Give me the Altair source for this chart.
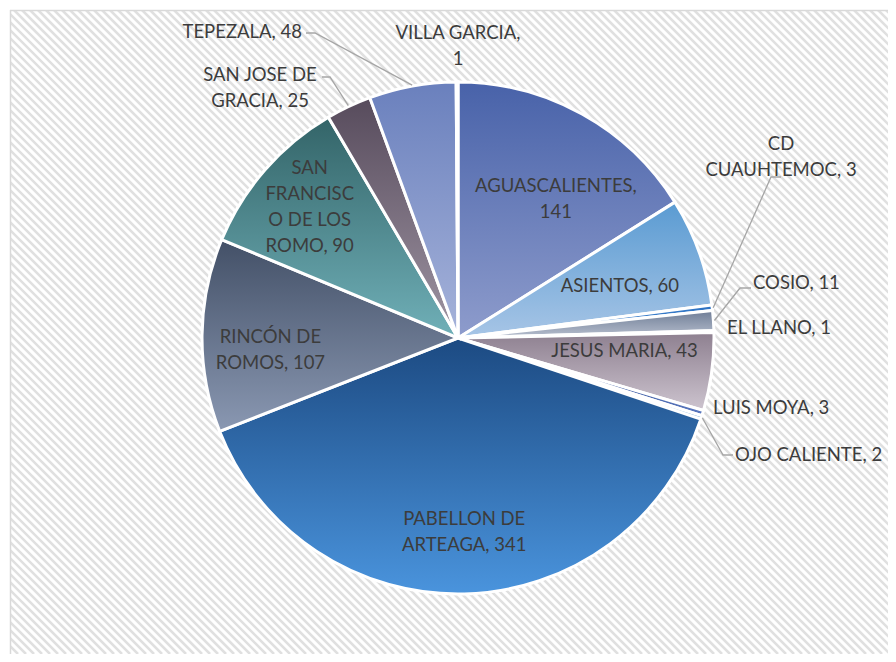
import math
import altair as alt
import pandas as pd

# ---------------- data ----------------
categories = ["AGUASCALIENTES", "ASIENTOS", "CD CUAUHTEMOC", "COSIO", "EL LLANO",
              "JESUS MARIA", "LUIS MOYA", "OJO CALIENTE", "PABELLON DE ARTEAGA",
              "RINCÓN DE ROMOS", "SAN FRANCISCO DE LOS ROMO", "SAN JOSE DE GRACIA",
              "TEPEZALA", "VILLA GARCIA"]
values = [141, 60, 3, 11, 1, 43, 3, 2, 341, 107, 90, 25, 48, 1]
label_texts = ["AGUASCALIENTES,\n141", "ASIENTOS, 60", "CD\nCUAUHTEMOC, 3", "COSIO, 11",
               "EL LLANO, 1", "JESUS MARIA, 43", "LUIS MOYA, 3", "OJO CALIENTE, 2",
               "PABELLON DE\nARTEAGA, 341", "RINCÓN DE\nROMOS, 107",
               "SAN\nFRANCISC\nO DE LOS\nROMO, 90", "SAN JOSE DE\nGRACIA, 25",
               "TEPEZALA, 48", "VILLA GARCIA,\n1"]

# ---------------- styles ----------------
top_colors = ["#4862a9", "#5a9bd2", "#2a6fc0", "#6f7d96", "#4f959f", "#8e8090", "#2b4680",
              "#3a6fa0", "#1c4a82", "#435067", "#336468", "#574b5c", "#6a80bd", "#8ab8e0"]
bottom_colors = ["#8e9ccc", "#a7c5e6", "#5a9be0", "#b8c0cf", "#9ccbd2", "#cdc4cf", "#5a78c0",
                 "#7fb0e0", "#4a94dd", "#8a98b2", "#70b0b8", "#9f95a3", "#a6b3da", "#c0daf0"]

# ---------------- layout (view pixel coords) ----------------
PADL, PADT = 2, 2
W, H = 880 - PADL, 646 - PADT
CX, CY, R = 448, 328, 256
FONT = "Lato"
FS = 18.5
LH = 26
TXT = "#3c3c3c"

# inside labels: (angle shift deg, radius px)
inside_layout = {
    "AGUASCALIENTES": (6.2, 170),
    "ASIENTOS": (1.9, 170),
    "JESUS MARIA": (-3.1, 167),
    "PABELLON DE ARTEAGA": (-0.4, 194),
    "RINCÓN DE ROMOS": (-4.3, 188),
    "SAN FRANCISCO DE LOS ROMO": (0.4, 198),
}
# outside labels: (x, y, align) -- y is the block centre
outside_layout = {
    "TEPEZALA": (292, 22, "right"),
    "VILLA GARCIA": (448, 36, "center"),
    "SAN JOSE DE GRACIA": (250, 78, "center"),
    "CD CUAUHTEMOC": (771, 147, "center"),
    "COSIO": (743, 273, "left"),
    "EL LLANO": (717, 318, "left"),
    "LUIS MOYA": (703, 398, "left"),
    "OJO CALIENTE": (725, 445, "left"),
}
# leader lines: elbow and end points
leader_layout = {
    "TEPEZALA": [(305, 23), (296, 23)],
    "SAN JOSE DE GRACIA": [(320, 67), (312, 67)],
    "CD CUAUHTEMOC": [(761, 167), (771, 167)],
    "COSIO": [(730, 278), (741, 278)],
    "OJO CALIENTE": [(713, 445), (723, 445)],
}

# ---------------- tables ----------------
total = sum(values)
rows = []
cum = 0
for i, (c, v, t) in enumerate(zip(categories, values, label_texts)):
    start = cum / total * 360
    cum += v
    end = cum / total * 360
    rows.append(dict(idx=i, name=c, value=v, label=t, mid=(start + end) / 2))
df = pd.DataFrame(rows)

lab_rows = []
for r in rows:
    n = r["name"]
    nl = r["label"].count("\n")
    if n in inside_layout:
        sh, rad = inside_layout[n]
        a = math.radians(r["mid"] + sh)
        x, y, al = CX + rad * math.sin(a), CY - rad * math.cos(a), "center"
    else:
        x, y, al = outside_layout[n]
    lab_rows.append(dict(label=r["label"], lx=x, ly=y - nl * LH / 2, align=al))
labels_df = pd.DataFrame(lab_rows)

lead_rows = []
for r in rows:
    n = r["name"]
    if n in leader_layout:
        a = math.radians(r["mid"])
        pts = [(CX + (R + 1) * math.sin(a), CY - (R + 1) * math.cos(a))] + leader_layout[n]
        for k, (x, y) in enumerate(pts):
            lead_rows.append(dict(name=n, k=k, px=x, py=y))
lead_df = pd.DataFrame(lead_rows)


def grad(top, bot):
    return {"gradient": "linear", "x1": 0, "y1": 0, "x2": 0, "y2": 1,
            "stops": [{"offset": 0, "color": top}, {"offset": 1, "color": bot}]}


conds = [{"test": f"datum.idx === {i}", "value": grad(t, b)}
         for i, (t, b) in enumerate(zip(top_colors, bottom_colors))]

# ---------------- layers ----------------
hatch = alt.Chart(alt.sequence(-660, 900, 8, as_="h")).transform_calculate(
    h2=f"datum.h + {H}"
).mark_rule(clip=True, stroke="#e0e0e0", strokeWidth=2.6).encode(
    x=alt.X("h:Q", scale=None), x2="h2:Q", y=alt.value(0), y2=alt.value(H)
)

frame_left = alt.Chart(pd.DataFrame({"a": [0]})).mark_rule(
    stroke="#d9d9d9", strokeWidth=1.5).encode(
    x=alt.value(0.5), y=alt.value(0), y2=alt.value(H))
frame_top = alt.Chart(pd.DataFrame({"a": [0]})).mark_rule(
    stroke="#d9d9d9", strokeWidth=1.5).encode(
    y=alt.value(0.5), x=alt.value(0), x2=alt.value(W))

arcs = alt.Chart(df).mark_arc(
    x=CX, y=CY, outerRadius=R, stroke="white", strokeWidth=3
).encode(
    theta=alt.Theta("value:Q", stack=True),
    order=alt.Order("idx:Q"),
    fill=alt.value(grad(top_colors[0], bottom_colors[0]), condition=conds),
)

leaders = alt.Chart(lead_df).mark_line(stroke="#a6a6a6", strokeWidth=1.3).encode(
    x=alt.X("px:Q", scale=None), y=alt.Y("py:Q", scale=None),
    detail="name:N", order="k:Q"
)

text_layers = []
for al in ["center", "left", "right"]:
    sub = labels_df[labels_df["align"] == al]
    if len(sub) == 0:
        continue
    text_layers.append(
        alt.Chart(sub).mark_text(
            font=FONT, fontSize=FS, color=TXT, align=al, baseline="middle",
            lineBreak="\n", lineHeight=LH
        ).encode(
            x=alt.X("lx:Q", scale=None), y=alt.Y("ly:Q", scale=None), text="label:N"
        )
    )

chart = alt.layer(hatch, frame_left, frame_top, arcs, leaders, *text_layers).properties(
    width=W, height=H, autosize="none",
    padding={"left": PADL, "top": PADT, "right": 0, "bottom": 0}
).configure_view(stroke=None)

chart.save("out.html", embed_options={"renderer": "svg", "actions": False})
